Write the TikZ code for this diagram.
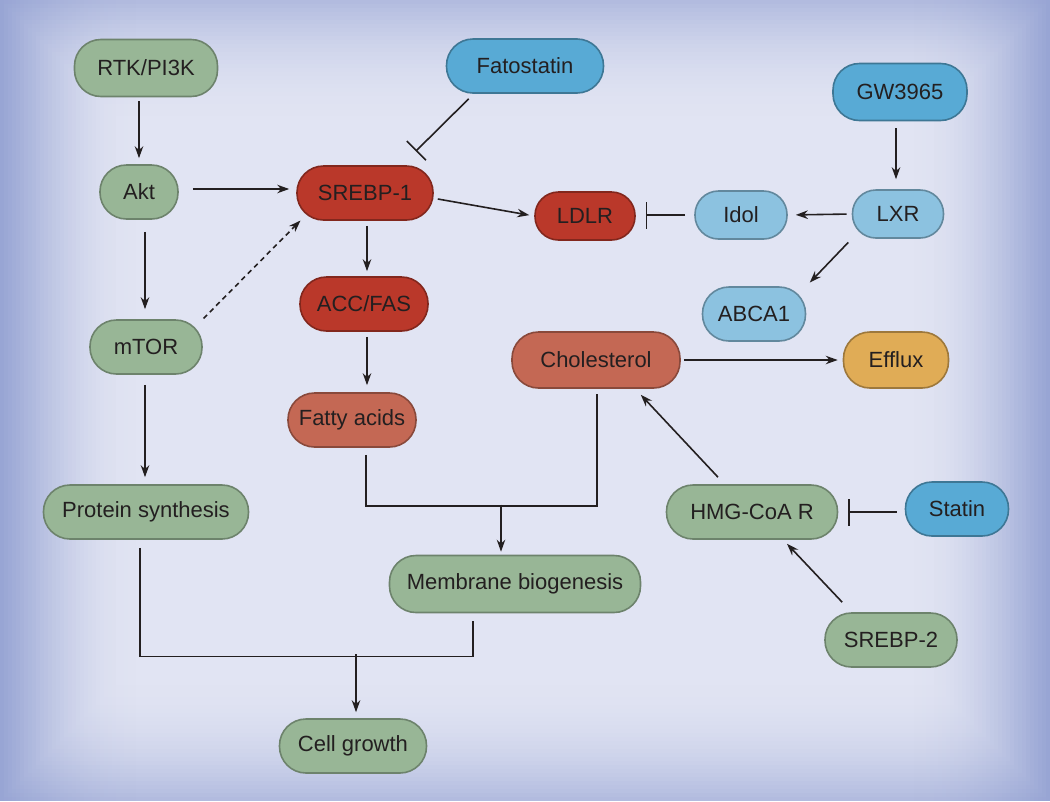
\documentclass[tikz,border=0pt]{standalone}
\usepackage{fontspec}
\setmainfont{Liberation Sans}
\usetikzlibrary{arrows.meta,calc}

\definecolor{bgLight}{RGB}{225,228,243}
\definecolor{bgDark}{RGB}{132,148,204}
\definecolor{inkc}{RGB}{35,31,32}
\definecolor{greenc}{RGB}{152,182,150}
\definecolor{redc}{RGB}{186,56,42}
\definecolor{salmonc}{RGB}{196,104,84}
\definecolor{bluec}{RGB}{88,170,213}
\definecolor{palebluec}{RGB}{140,194,224}
\definecolor{orangec}{RGB}{224,172,86}

\tikzstyle{pill} = [rectangle, rounded corners=26.5pt, minimum height=54pt,
    line width=1.6pt, text=inkc, font=\fontsize{22}{26}\selectfont, inner sep=0pt]
\tikzstyle{smallpill} = [pill, rounded corners=23.5pt, minimum height=48pt]
\tikzstyle{greenbox} = [fill=greenc, draw=greenc!72!black]
\tikzstyle{redbox} = [fill=redc, draw=redc!70!black]
\tikzstyle{salmonbox} = [fill=salmonc, draw=salmonc!70!black]
\tikzstyle{bluebox} = [fill=bluec, draw=bluec!70!black]
\tikzstyle{paleblue} = [fill=palebluec, draw=palebluec!70!black]
\tikzstyle{orangebox} = [fill=orangec, draw=orangec!70!black]
\tikzstyle{link} = [draw=inkc, line width=1.6pt]
\tikzstyle{arr} = [link, -{Stealth[length=12pt,width=8.5pt]}, shorten >=6pt, shorten <=6pt]
\tikzstyle{inh} = [link, -{Bar[width=27pt]}, shorten >=9pt, shorten <=8pt]

\begin{document}
\begin{tikzpicture}[x=1pt,y=-1pt]
\useasboundingbox (0,0) rectangle (1050,801);
% background with darker rim
\fill[bgLight] (0,0) rectangle (1050,801);
\foreach \i in {0,...,29}{
  \pgfmathsetmacro\op{0.5*(1-\i/30)^2}
  \draw[bgDark, line width=4pt, draw opacity=\op] (\i*4+2,\i*4+2) rectangle (1048-\i*4,799-\i*4);
}
\foreach \i in {0,...,35}{
  \pgfmathsetmacro\op{0.55*(1-\i/36)^2}
  \fill[bgDark, fill opacity=\op] (\i*4,0) rectangle (\i*4+4,801);
  \fill[bgDark, fill opacity=\op] (1046-\i*4,0) rectangle (1050-\i*4,801);
}

% left column
\node[pill, greenbox, minimum width=143pt, minimum height=57pt] (rtk) at (146,68) {RTK/PI3K};
\node[pill, greenbox, minimum width=78pt] (akt) at (139,192) {Akt};
\node[pill, greenbox, minimum width=112pt] (mtor) at (146,347) {mTOR};
\node[pill, greenbox, minimum width=205pt] (prot) at (146,512) {Protein synthesis};

% SREBP-1 branch
\node[pill, bluebox, minimum width=157pt] (fato) at (525,66) {Fatostatin};
\node[pill, redbox, minimum width=136pt] (srebpA) at (365,193) {SREBP-1};
\node[pill, redbox, minimum width=128pt] (accfas) at (364,304) {ACC/FAS};
\node[pill, salmonbox, minimum width=128pt] (fatty) at (352,420) {Fatty acids};
\node[pill, greenbox, minimum width=251pt, minimum height=57pt] (membr) at (515,584) {Membrane biogenesis};
\node[pill, greenbox, minimum width=147pt] (growth) at (353,746) {Cell growth};

% LXR branch
\node[smallpill, redbox, minimum width=100pt] (ldlr) at (585,216) {LDLR};
\node[smallpill, paleblue, minimum width=92pt] (idol) at (741,215) {Idol};
\node[pill, bluebox, minimum width=134pt, minimum height=57pt] (gw) at (900,92) {GW3965};
\node[smallpill, paleblue, minimum width=91pt] (lxr) at (898,214) {LXR};
\node[pill, paleblue, minimum width=103pt] (abca) at (754,314) {ABCA1};
\node[pill, salmonbox, minimum width=168pt, minimum height=56pt] (chol) at (596,360) {Cholesterol};
\node[pill, orangebox, minimum width=105pt, minimum height=56pt] (efflux) at (896,360) {Efflux};

% mevalonate branch
\node[pill, greenbox, minimum width=171pt] (hmg) at (752,512) {HMG-CoA R};
\node[pill, bluebox, minimum width=103pt] (statin) at (957,509) {Statin};
\node[pill, greenbox, minimum width=132pt] (srebpB) at (891,640) {SREBP-2};

% connectors
\draw[arr, shorten <=4pt] (akt |- rtk.south) -- (akt.north);
\draw[arr, shorten <=12pt, shorten >=10pt] ([xshift=-1pt]mtor.north |- akt.south) -- ([xshift=-1pt]mtor.north);
\draw[arr, shorten <=10pt, shorten >=7pt] ([xshift=-1pt]mtor.south) -- ([xshift=-1pt]mtor.south |- prot.north);
\draw[arr, shorten <=14pt, shorten >=7pt] ([yshift=3pt]akt.east) -- ([yshift=3pt]akt.east -| srebpA.west);
\draw[arr, dash pattern=on 5pt off 4pt, shorten <=1pt, shorten >=1pt] (mtor.north east) -- ($(srebpA.south west)+(5,-1)$);
\draw[inh, shorten <=0pt, shorten >=0pt] ($(fato.south west)+(23,5)$) -- ($(srebpA.north east)+(-18,-14)$);
\draw[arr, shorten <=0pt, shorten >=5pt] ($(srebpA.east)+(4,6)$) -- (ldlr.west);
\draw[arr, shorten <=5pt, shorten >=5pt] ([xshift=2pt]srebpA.south) -- ([xshift=2pt]srebpA.south |- accfas.north);
\draw[arr, shorten <=5pt, shorten >=7pt] ([xshift=3pt]accfas.south) -- ([xshift=3pt]accfas.south |- fatty.north);
\draw[inh, shorten <=9pt, shorten >=10pt] (idol.west) -- (idol.west -| ldlr.east);
\draw[arr, shorten <=5pt, shorten >=8pt] (lxr.west) -- (idol.east);
\draw[arr, shorten <=7pt, shorten >=10pt] ([xshift=-4pt]gw.south) -- ([xshift=-4pt]gw.south |- lxr.north);
\draw[arr, shorten <=5pt, shorten >=5pt] (lxr.south west) -- (abca.north east);
\draw[arr, shorten <=3pt, shorten >=5pt] (chol.east) -- (efflux.west);
\draw[arr, shorten <=0pt, shorten >=0pt] ($(hmg.north)+(-34,-7)$) -- ($(chol.south east)+(-40,6)$);
\draw[inh, shorten <=8pt, shorten >=10pt] (statin.west |- hmg.east) -- (hmg.east);
\draw[arr, shorten <=0pt, shorten >=0pt] ($(srebpB.north west)+(18,-10)$) -- ($(hmg.south)+(35,4)$);

% junctions
\draw[link] ($(accfas.south |- fatty.south)+(2,7)$) |- ($(chol.south)+(1,117)$) -- ($(chol.south)+(1,5)$);
\draw[arr, shorten <=0pt, shorten >=3pt] ($(membr.north)+(-14,-50)$) -- ($(membr.north)+(-14,0)$);
\draw[link] ($(prot.south)+(-6,8)$) |- ($(membr.south)+(-42,43)$) -- ($(membr.south)+(-42,8)$);
\draw[arr, shorten <=0pt, shorten >=6pt] ($(growth.north)+(3,-64)$) -- ($(growth.north)+(3,0)$);
\end{tikzpicture}
\end{document}
